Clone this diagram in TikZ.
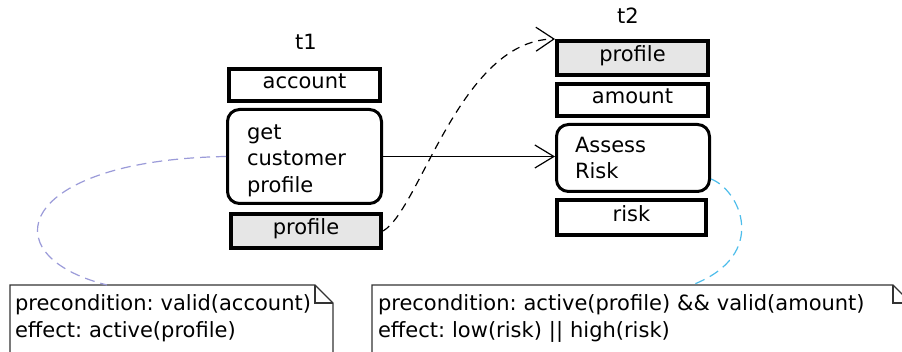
\documentclass[tikz,border=0pt]{standalone}
\usepackage{fontspec}
\setmainfont{DejaVu Sans}
\usetikzlibrary{arrows.meta}
\definecolor{boxgray}{HTML}{E6E6E6}
\definecolor{lav}{HTML}{9B9BD9}
\definecolor{skyb}{HTML}{4DBDEB}
\definecolor{notegray}{HTML}{333333}
\frenchspacing
\begin{document}
\begin{tikzpicture}[x=1pt,y=-1pt,
  every node/.style={font=\fontsize{21}{26.5}\selectfont},
  databox/.style={draw=black, line width=3.6pt, inner sep=0pt, text height=14pt, text depth=6pt},
  taskbox/.style={draw=black, line width=3pt, rounded corners=12pt, inner sep=0pt, align=left},
  notebox/.style={anchor=north west, inner ysep=10pt, align=left, outer sep=0pt},
  noteline/.style={draw=notegray, line width=1.3pt, line join=miter},
  flow/.style={line width=1.2pt},
  dataflow/.style={line width=1.2pt, dash pattern=on 8pt off 6pt},
  lavlink/.style={lav, line width=1.2pt, dash pattern=on 10pt off 6pt},
  skylink/.style={skyb, line width=1.2pt, dash pattern=on 10pt off 6pt}]
\useasboundingbox (0,0) rectangle (902,352);
\fill[white] (0,0) rectangle (902,352);
\clip (0,0) rectangle (902,352);

% task t1
\node[anchor=base] (t1) at (306,50) {t1};
\node[databox, minimum width=151.5pt, minimum height=32.4pt] (acc) at (304.5,85) {account};
\node[taskbox, minimum width=154pt, minimum height=94pt, text width=115pt, text height=23pt, text depth=57pt] (gcp) at (304.5,156.5) {get\\customer\\profile};
\node[databox, fill=boxgray, minimum width=150.4pt, minimum height=34.4pt] (p1) at (306,231) {profile};

% task t2
\node[anchor=base] (t2) at (628,24) {t2};
\node[databox, fill=boxgray, minimum width=151.4pt, minimum height=34.4pt] (p2) at (632.5,58) {profile};
\node[databox, minimum width=151.4pt, minimum height=32.4pt] (amt) at (632.5,100) {amount};
\node[taskbox, minimum width=153pt, minimum height=67pt, text width=116pt] (ar) at (633,158) {Assess\\Risk};
\node[databox, minimum width=149.4pt, minimum height=35.4pt] (rsk) at (631.5,217.5) {risk};

% notes
\node[notebox, inner xsep=5pt, text width=313pt] (n1) at (10,285)
  {precondition: valid(account)\\effect: active(profile)};
\node[notebox, inner xsep=6pt, text width=527pt] (n2) at (372,285)
  {precondition: active(profile) \&\& valid(amount)\\effect: low(risk) || high(risk)};

\draw[noteline] (n1.north west) -- ([xshift=-18pt]n1.north east) -- ([yshift=-18pt]n1.north east)
  -- ([yshift=-90pt]n1.north east) -- ([yshift=-90pt]n1.north west) -- cycle;
\draw[noteline] ([xshift=-18pt]n1.north east) -- ([xshift=-18pt,yshift=-18pt]n1.north east) -- ([yshift=-18pt]n1.north east);
\draw[noteline] (n2.north west) -- ([xshift=-18pt]n2.north east) -- ([yshift=-18pt]n2.north east)
  -- ([yshift=-90pt]n2.north east) -- ([yshift=-90pt]n2.north west) -- cycle;
\draw[noteline] ([xshift=-18pt]n2.north east) -- ([xshift=-18pt,yshift=-18pt]n2.north east) -- ([yshift=-18pt]n2.north east);

% connectors
\draw[flow, -{Straight Barb[length=19pt,width=23pt]}] (gcp.east) -- (gcp.east -| ar.west);
\draw[dataflow, -{Straight Barb[length=18pt,width=24pt]}] (p1.east) .. controls (420,210) and (460,40) .. (p2.north west);
\draw[lavlink] (gcp.west) .. controls (18,160) and (-12,255) .. ([xshift=97pt]n1.north west);
\draw[skylink] ([yshift=14pt]ar.south east) .. controls (740,190) and (770,255) .. ([xshift=320pt]n2.north west);
\end{tikzpicture}
\end{document}
